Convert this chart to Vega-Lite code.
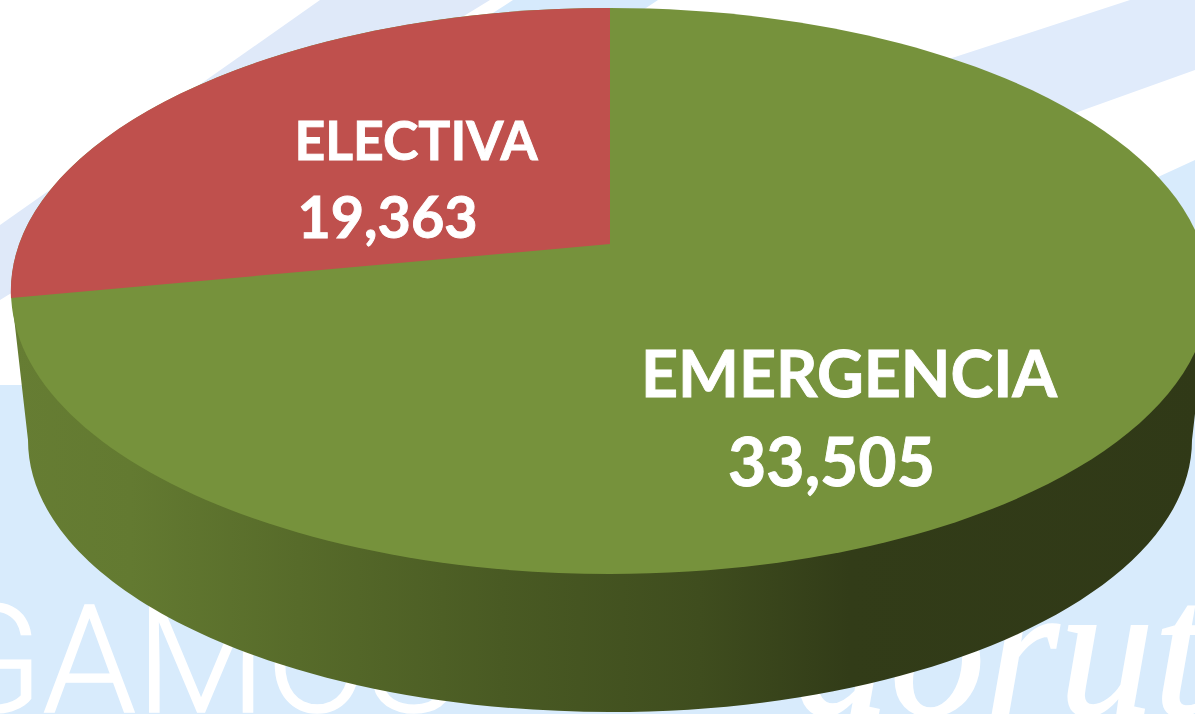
{"$schema":"https://vega.github.io/schema/vega-lite/v6.json","width":1195,"height":714,"padding":0,"autosize":"none","background":"#ffffff","config":{"view":{"stroke":null}},
"datasets":{"partos":[{"tipo":"EMERGENCIA","valor":33505},{"tipo":"ELECTIVA","valor":19363}],
"fondo":[{"parte":"abajo"},{"parte":"banda"},{"parte":"izquierda"},{"parte":"centro"}],
"marca":[{"texto":"GAMOS","lugar":"a"},{"texto":"aorut","lugar":"b"}]},
"resolve":{"scale":{"x":"independent","y":"independent","shape":"independent","color":"independent","size":"independent"}},
"layer":[
{"data":{"name":"fondo"},"mark":{"type":"point","filled":true,"opacity":1,"size":4,"clip":true},
"encoding":{"x":{"datum":0,"type":"quantitative","scale":{"domain":[0,1195]},"axis":null},"y":{"datum":0,"type":"quantitative","scale":{"domain":[714,0]},"axis":null},
"shape":{"field":"parte","type":"nominal","legend":null,"scale":{"domain":["abajo","banda","izquierda","centro"],"range":["M0 385 L40 385 L1158 177 L1195 160 L1195 714 L0 714 Z","M955 57 L1130 0 L1195 0 L1195 70 L1075 113 L800 220 L800 100 Z","M0 225 L320 0 L490 0 L0 300 Z","M513 0 L658 0 L640 12 L420 60 Z"]}},
"color":{"field":"parte","type":"nominal","legend":null,"scale":{"domain":["abajo","banda","izquierda","centro"],"range":["#d8ebfc","#e0ebfb","#dfe9f9","#d6eafc"]}}}},
{"data":{"name":"marca"},"transform":[{"filter":"datum.lugar==='a'"}],"mark":{"type":"text","font":"Roboto","fontWeight":300,"color":"#ffffff","stroke":"#ffffff","strokeWidth":1.5,"baseline":"alphabetic","align":"left","clip":true},
"encoding":{"text":{"field":"texto"},
"x":{"datum":-60,"type":"quantitative","axis":null,"scale":{"domain":[0,1195]}},
"y":{"datum":712,"type":"quantitative","axis":null,"scale":{"domain":[714,0]}},
"size":{"value":150}}},
{"data":{"name":"marca"},"transform":[{"filter":"datum.lugar==='b'"}],"mark":{"type":"text","font":"Liberation Serif","fontStyle":"italic","fontWeight":400,"color":"#ffffff","stroke":"#ffffff","strokeWidth":2,"baseline":"alphabetic","align":"left","clip":true},
"encoding":{"text":{"field":"texto"},
"x":{"datum":795,"type":"quantitative","axis":null,"scale":{"domain":[0,1195]}},
"y":{"datum":714,"type":"quantitative","axis":null,"scale":{"domain":[714,0]}},
"size":{"value":190}}},
{"data":{"name":"partos"},"transform":[{"filter":"datum.tipo==='EMERGENCIA'"}],
"mark":{"type":"point","filled":true,"opacity":1,"size":4,"shape":"M11 291 L28 440 A582 272 0 0 0 1192 440 L1209 291 Z","clip":true,
"fill":{"gradient":"linear","x1":0,"y1":0,"x2":1,"y2":0,"stops":[{"offset":0,"color":"#667d33"},{"offset":0.1,"color":"#637a31"},{"offset":0.24,"color":"#576b2a"},{"offset":0.41,"color":"#495a23"},{"offset":0.575,"color":"#3f4d1e"},{"offset":0.7,"color":"#323c18"},{"offset":1,"color":"#303917"}]}},
"encoding":{"x":{"datum":0,"type":"quantitative","scale":{"domain":[0,1195]},"axis":null},"y":{"datum":0,"type":"quantitative","scale":{"domain":[714,0]},"axis":null}}},
{"data":{"name":"partos"},"mark":{"type":"point","filled":true,"opacity":1,"size":4,"clip":true},
"encoding":{"x":{"datum":0,"type":"quantitative","scale":{"domain":[0,1195]},"axis":null},"y":{"datum":0,"type":"quantitative","scale":{"domain":[714,0]},"axis":null},
"shape":{"field":"tipo","type":"nominal","legend":null,"scale":{"domain":["EMERGENCIA","ELECTIVA"],"range":["M11 291 A599 283 0 1 1 1209 291 A599 283 0 1 1 11 291 Z","M610 244 L610 8 A599 283 0 0 0 11 298 Z"]}},
"color":{"field":"tipo","type":"nominal","legend":null,"scale":{"domain":["EMERGENCIA","ELECTIVA"],"range":["#76923c","#bf504d"]}}}},
{"data":{"name":"partos"},"mark":{"type":"text","font":"Lato","fontWeight":700,"color":"#ffffff","stroke":"#ffffff","strokeWidth":0.9,"baseline":"alphabetic","align":"center"},
"encoding":{"text":{"field":"tipo"},
"x":{"field":"tipo","type":"nominal","axis":null,"scale":{"domain":["ELECTIVA","EMERGENCIA"],"range":[416,849],"padding":0}},
"y":{"field":"tipo","type":"nominal","axis":null,"scale":{"domain":["ELECTIVA","EMERGENCIA"],"range":[160,397],"padding":0}},
"size":{"field":"tipo","type":"nominal","legend":null,"scale":{"domain":["ELECTIVA","EMERGENCIA"],"range":[53.5,64.5]}}}},
{"data":{"name":"partos"},"mark":{"type":"text","font":"Lato","fontWeight":700,"color":"#ffffff","stroke":"#ffffff","strokeWidth":0.9,"baseline":"alphabetic","align":"center"},
"encoding":{"text":{"field":"valor","type":"quantitative","format":","},
"x":{"field":"tipo","type":"nominal","axis":null,"scale":{"domain":["ELECTIVA","EMERGENCIA"],"range":[387.5,831.5],"padding":0}},
"y":{"field":"tipo","type":"nominal","axis":null,"scale":{"domain":["ELECTIVA","EMERGENCIA"],"range":[238,486],"padding":0}},
"size":{"field":"tipo","type":"nominal","legend":null,"scale":{"domain":["ELECTIVA","EMERGENCIA"],"range":[57.5,66]}}}}
]}
